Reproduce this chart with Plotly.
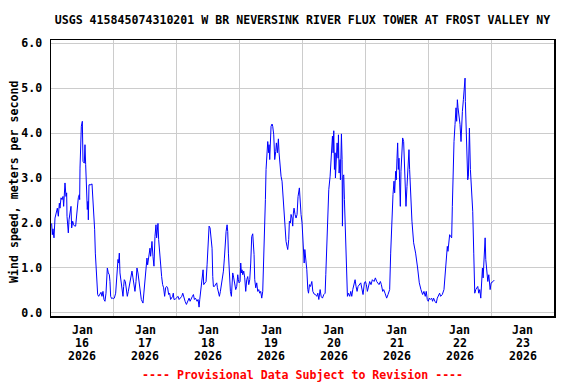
import pandas as pd
import plotly.graph_objects as go

# ---------------- data ----------------
START = "2026-01-16 00:00"

# hours since Jan 16 2026 00:00
hours = [
    0.25, 0.51, 0.76, 1.14, 1.53, 2.04, 2.42, 2.80, 3.18, 3.43, 3.82, 4.20, 4.58, 4.83, 5.34, 5.72,
    5.98, 6.11, 6.36, 6.61, 6.87, 7.25, 7.63, 7.89, 8.27, 8.65, 9.03, 9.41, 9.79, 10.18, 10.43, 10.81,
    10.94, 11.07, 11.45, 11.58, 11.96, 12.08, 12.21, 12.72, 12.97, 13.23, 13.48, 13.86, 14.12, 14.25,
    14.50, 15.26, 15.65, 15.90, 16.28, 16.66, 16.92, 17.43, 17.81, 18.19, 18.70, 19.08, 19.46, 19.84,
    20.22, 20.61, 20.99, 21.24, 21.50, 21.88, 22.26, 22.51, 22.77, 23.15, 23.53, 23.91, 24.17, 24.68,
    25.06, 25.31, 25.57, 25.82, 26.08, 26.33, 26.71, 26.97, 27.48, 27.73, 27.98, 28.37, 28.75, 29.13,
    29.51, 29.89, 30.27, 30.91, 31.29, 31.67, 32.05, 32.44, 32.82, 33.20, 33.58, 33.96, 34.47, 35.11,
    35.49, 35.74, 36.00, 36.38, 36.63, 36.89, 37.14, 37.52, 37.78, 38.03, 38.29, 38.54, 38.92, 39.30,
    39.69, 40.07, 40.32, 40.83, 41.09, 41.59, 41.98, 42.23, 42.61, 42.99, 43.38, 43.76, 44.14, 44.52,
    44.90, 45.28, 45.66, 46.05, 46.43, 46.68, 46.94, 47.45,
    48.51, 48.89, 49.40, 49.91, 50.29, 50.67, 51.18, 51.69, 52.20, 52.71, 53.09, 53.47, 53.98, 54.36,
    54.74, 55.12, 55.38, 55.76, 56.14, 56.52, 56.78, 57.16, 57.54, 57.79, 58.05, 58.30, 58.68, 59.19,
    59.58, 59.96, 60.34, 60.72, 61.10, 61.48, 61.74, 61.99, 62.37, 62.88, 63.26, 63.52, 63.90, 64.28,
    64.66, 65.04, 65.43, 65.81, 66.19, 66.57, 66.83, 67.21, 67.46, 67.72, 68.10, 68.48, 68.86, 69.12,
    69.37, 69.75, 70.13, 70.51, 70.90, 71.28, 71.53, 71.79, 72.17, 72.42, 72.68, 72.93, 73.19, 73.57,
    73.95, 74.33, 74.71, 75.09, 75.48, 75.86, 76.24, 76.62, 77.00, 77.26, 77.51, 77.77, 78.15, 78.53,
    78.91, 79.29, 79.67, 80.05, 80.44, 80.82, 81.07, 81.33, 81.71, 81.84, 82.09, 82.47, 82.73, 83.11,
    83.23, 83.49, 83.74, 84.00, 84.38, 84.63, 85.02, 85.40, 85.78, 86.03, 86.41, 86.80, 87.05, 87.43,
    87.81, 88.19, 88.58, 88.96, 89.34, 89.72, 90.10, 90.36, 90.74, 90.99, 91.38, 91.63, 92.01, 92.27,
    92.52, 92.77, 93.16, 93.54, 93.92, 94.30, 94.81, 95.06, 95.45, 95.83, 96.08,
    96.38, 96.64, 96.89, 97.27, 97.65, 98.03, 98.29, 98.67, 99.05, 99.56, 99.94, 100.45, 100.95,
    101.46, 101.84, 102.22, 102.73, 103.11, 103.62, 104.13, 104.64, 104.89, 105.27, 105.65, 106.03,
    106.54, 106.92, 107.18, 107.43, 107.68, 107.94, 108.19, 108.45, 108.57, 108.95, 109.21, 109.59,
    109.72, 109.97, 110.35, 110.48, 110.86, 111.11, 111.24, 111.49, 111.75, 112.00, 112.51, 112.89,
    113.15, 113.53, 114.03, 114.42, 114.80, 115.18, 115.69, 116.07, 116.45, 116.83, 117.21, 117.72,
    118.23, 119.11, 119.62, 120.00, 120.38, 120.77, 121.15, 121.65, 122.16, 122.67, 123.31, 123.81,
    124.32, 124.70, 125.21, 125.72, 126.10, 126.61, 126.99, 127.50, 128.13, 128.64, 129.27, 129.66,
    130.16, 130.54, 130.93, 131.18, 131.56, 131.81, 132.07, 132.32, 132.58, 132.83, 133.08, 133.34,
    133.59, 133.97, 134.23, 134.61, 134.86, 135.12, 135.50, 135.88, 136.13, 136.64, 136.89, 137.28,
    137.78, 138.42, 139.18, 139.94, 140.58, 141.21, 141.85, 142.36, 142.86, 143.24, 143.63, 144.01,
    144.38, 144.77, 145.28, 145.66, 146.04, 146.55, 147.06, 147.45, 147.96, 148.34, 148.72, 149.36,
    150.00, 150.26, 150.51, 150.90, 151.28, 151.53, 151.79, 152.17, 152.56, 152.94, 153.19, 153.45,
    153.83, 154.22, 154.60, 154.85, 155.11, 155.37, 155.62, 155.88, 156.13, 156.51, 156.77, 157.03,
    157.41, 157.66, 158.05, 158.17, 158.43, 158.81, 159.07, 159.32, 159.58, 159.71, 160.09, 160.47,
    160.98, 161.37, 161.75, 162.13, 162.52, 162.90, 163.28, 163.67, 164.05, 164.43, 164.69, 164.94,
    165.33, 165.71, 165.96, 166.35, 166.73, 167.11, 167.62, 168.01, 168.39, 168.77, 169.16,
]

# wind speed, meters per second
wind_speed = [
    1.99, 1.74, 1.87, 1.67, 2.11, 2.22, 2.33, 2.15, 2.44, 2.33, 2.56, 2.52, 2.59, 2.37, 2.89, 2.59,
    2.67, 2.15, 1.89, 1.78, 2.07, 2.30, 2.37, 1.89, 2.04, 1.96, 1.93, 1.93, 2.19, 2.44, 2.56, 2.63,
    2.52, 3.22, 4.00, 4.15, 4.26, 3.96, 3.37, 3.33, 3.74, 3.30, 2.74, 2.30, 2.48, 2.07,
    2.85, 2.85, 2.87, 2.63, 2.11, 1.85, 1.33, 0.78, 0.41, 0.37, 0.44, 0.46, 0.37, 0.48,
    0.30, 0.26, 0.44, 0.67, 1.00, 0.89, 0.85, 0.70, 0.37, 0.32, 0.33, 0.32, 0.33, 0.44,
    0.70, 0.93, 1.19, 1.11, 1.33, 0.89, 0.70, 0.63, 0.37, 0.59, 0.74, 0.70, 0.52, 0.37,
    0.48, 0.63, 0.74, 0.93, 0.78, 0.67, 0.48, 0.70, 1.00, 0.89, 0.70, 0.48, 0.30, 0.22,
    0.44, 0.63, 0.85, 1.11, 1.22, 1.07, 1.19, 1.30, 1.44, 1.26, 1.56, 1.59, 1.26, 1.04,
    1.70, 1.96, 1.67, 1.99, 1.63, 1.22, 1.00, 0.81, 0.63, 0.56, 0.37, 0.56, 0.59, 0.56,
    0.41, 0.44, 0.30, 0.33, 0.37, 0.44, 0.30, 0.31,
    0.37, 0.30, 0.33, 0.37, 0.44, 0.33, 0.26, 0.19, 0.26, 0.33, 0.26, 0.33, 0.37, 0.41,
    0.30, 0.33, 0.30, 0.26, 0.30, 0.13, 0.30, 0.52, 0.63, 0.74, 0.96, 0.63, 0.67, 0.70,
    1.07, 1.59, 1.93, 1.89, 1.63, 1.44, 0.81, 0.59, 0.59, 0.63, 0.67, 0.56, 0.44, 0.37,
    0.48, 0.63, 0.74, 0.93, 1.22, 1.63, 1.81, 1.96, 1.81, 1.33, 0.78, 0.48, 0.37, 0.70,
    0.89, 0.78, 0.59, 0.52, 0.59, 0.85, 0.74, 0.67, 0.70, 1.11, 0.89, 0.96, 0.85, 0.93,
    0.78, 0.48, 0.74, 0.81, 0.63, 0.74, 1.11, 1.70, 1.76, 1.52, 1.30, 0.74, 0.56, 0.67,
    0.48, 0.52, 0.44, 0.48, 0.33, 0.48, 0.93, 1.26, 1.89, 2.52, 3.19, 3.63, 3.81, 3.56,
    3.74, 3.41, 3.85, 4.15, 4.20, 4.15, 3.96, 3.41, 3.59, 3.78, 3.56, 3.87, 3.56, 3.19,
    3.04, 2.93, 2.56, 2.07, 1.85, 1.59, 1.48, 1.41, 1.63, 2.04, 2.00, 2.19, 2.11, 1.93,
    2.22, 2.33, 2.19, 2.11, 2.19, 2.59, 2.78, 2.44, 2.19, 2.00, 1.78,
    1.44, 1.11, 1.41, 1.19, 0.96, 0.52, 0.44, 0.63, 0.59, 0.70, 0.48, 0.42, 0.41,
    0.37, 0.44, 0.30, 0.52, 0.37, 0.33, 0.41, 0.44, 0.85, 1.52, 2.19, 2.74,
    3.04, 3.41, 3.59, 3.93, 3.56, 4.05, 3.19, 3.56, 3.00, 3.63, 3.78, 3.44,
    3.96, 3.11, 3.41, 2.96, 3.98, 3.41, 1.93, 3.04, 3.07, 2.52, 1.74, 0.81,
    0.37, 0.44, 0.37, 0.48, 0.37, 0.52, 0.63, 0.74, 0.59, 0.48, 0.59, 0.63,
    0.67, 0.41, 0.67, 0.70, 0.63, 0.48, 0.59, 0.70, 0.63, 0.74, 0.70, 0.78,
    0.70, 0.67, 0.63, 0.70, 0.63, 0.48, 0.52, 0.44, 0.33, 0.41, 0.52, 1.33,
    2.26, 2.63, 2.93, 2.67, 3.15, 2.96, 3.44, 3.78, 3.19, 3.44, 2.89, 2.37,
    3.15, 3.59, 3.89, 3.81, 3.41, 2.89, 2.37, 2.81, 3.22, 3.63, 3.19, 2.52,
    2.04, 1.56, 1.33, 1.00, 0.67, 0.52, 0.41, 0.48, 0.37, 0.48, 0.30, 0.26,
    0.33, 0.30, 0.33, 0.26, 0.33, 0.26, 0.22, 0.33, 0.41, 0.44, 0.37, 0.41,
    0.52, 0.74, 1.00, 1.33, 1.48, 1.37, 1.59, 1.74, 1.70, 1.67, 2.37, 3.26,
    3.81, 4.19, 4.56, 4.26, 4.74, 4.56, 4.44, 4.26, 4.19, 3.81, 4.37, 4.48,
    4.74, 4.96, 5.22, 4.70, 4.11, 3.81, 2.96, 3.04, 3.67, 4.11, 3.19, 2.67,
    2.26, 1.33, 0.44, 0.52, 0.56, 0.59, 0.44, 0.52, 0.33, 0.67, 1.00, 0.78,
    1.41, 1.67, 1.19, 0.81, 0.70, 0.85, 0.52, 0.67, 0.68, 0.70, 0.73,
]

# x-axis labels (one per day, centred on noon)
label_days = ["2026-01-16", "2026-01-17", "2026-01-18", "2026-01-19",
              "2026-01-20", "2026-01-21", "2026-01-22", "2026-01-23"]
label_month = ["Jan"] * 8
label_daynum = ["16", "17", "18", "19", "20", "21", "22", "23"]
label_year = ["2026"] * 8

y_ticks = [0, 1, 2, 3, 4, 5, 6]
y_ticktext = ["0.0", "1.0", "2.0", "3.0", "4.0", "5.0", "6.0"]

TITLE = "USGS 415845074310201 W BR NEVERSINK RIVER FLUX TOWER AT FROST VALLEY NY"
Y_TITLE = "Wind speed, meters per second"
FOOTER = "---- Provisional Data Subject to Revision ----"

# ---------------- figure ----------------
times = pd.Timestamp(START) + pd.to_timedelta(hours, unit="h")

FONT = "DejaVu Sans Mono"
FS = 11.6

fig = go.Figure()
fig.add_trace(go.Scatter(
    x=times, y=wind_speed, mode="lines",
    line=dict(color="#0000ff", width=1),
    hoverinfo="skip", showlegend=False,
))

fig.update_layout(
    width=576, height=384,
    margin=dict(l=51, r=22, t=40, b=68),
    paper_bgcolor="white", plot_bgcolor="white",
    font=dict(family=FONT, size=FS, color="black", weight="bold"),
    title=dict(text=TITLE, x=0.5, xref="paper", xanchor="center",
               y=1 - 20 / 384, yref="container", yanchor="middle",
               font=dict(family=FONT, size=FS, color="black", weight="bold")),
    showlegend=False,
)

fig.update_xaxes(
    type="date",
    range=["2026-01-16", "2026-01-24"],
    tick0="2026-01-16", dtick=86400000,
    showgrid=True, gridcolor="#cccccc", gridwidth=1,
    showticklabels=False, ticks="",
    showline=True, linecolor="black", linewidth=1.5, mirror=True,
    zeroline=False,
)
fig.update_yaxes(
    range=[-0.067, 6.067],
    tickvals=y_ticks, ticktext=y_ticktext,
    showgrid=True, gridcolor="#cccccc", gridwidth=1,
    ticks="", ticklabelstandoff=5,
    showline=True, linecolor="black", linewidth=1.5, mirror=True,
    zeroline=False,
    tickfont=dict(family=FONT, size=FS, color="black", weight="bold"),
)

# day labels: three rows under each day
for d, m, n, yr in zip(label_days, label_month, label_daynum, label_year):
    xnoon = pd.Timestamp(d) + pd.Timedelta(hours=12)
    for txt, shift in ((m, -14), (n, -27), (yr, -40)):
        fig.add_annotation(x=xnoon, xref="x", y=0, yref="paper",
                           text=txt, showarrow=False,
                           xanchor="center", yanchor="middle", yshift=shift,
                           font=dict(family=FONT, size=FS, color="black", weight="bold"))

# y-axis title
fig.add_annotation(x=0, xref="paper", y=0.5, yref="paper", xshift=-37, yshift=-4,
                   text=Y_TITLE, textangle=-90, showarrow=False,
                   xanchor="center", yanchor="middle",
                   font=dict(family=FONT, size=FS, color="black", weight="bold"))

# footer
fig.add_annotation(x=0.5, xref="paper", y=0, yref="paper", yshift=-59,
                   text=FOOTER, showarrow=False,
                   xanchor="center", yanchor="middle",
                   font=dict(family=FONT, size=FS, color="#ff0000", weight="bold"))

fig.write_html(
    "out.html",
    config={"displayModeBar": False, "staticPlot": True},
    post_script="document.body.style.margin='0';document.body.style.padding='0';",
)
